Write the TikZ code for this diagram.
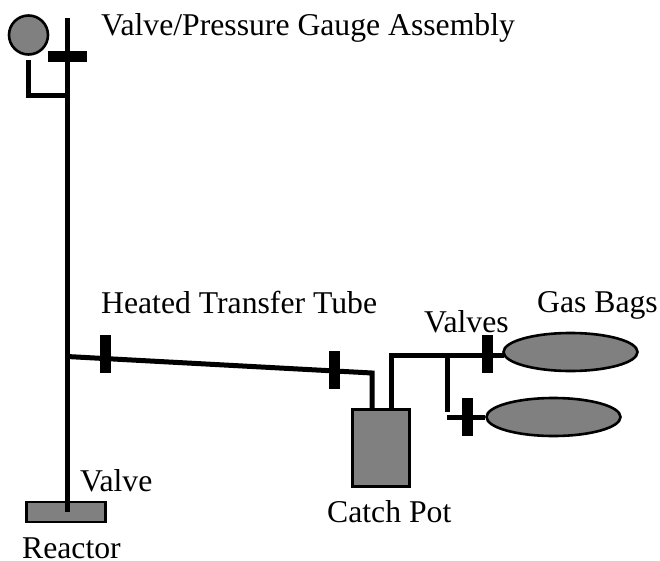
\documentclass[tikz,border=0pt]{standalone}
\usepackage{fontspec}
\setmainfont{Liberation Serif}
\usepackage{tikz}
\usetikzlibrary{shapes.geometric}

\begin{document}
\begin{tikzpicture}[x=1pt,y=-1pt]
\tikzstyle{pipe}=[line width=5pt,black]
\tikzstyle{valve}=[fill=black,inner sep=0pt,minimum width=11pt,minimum height=38pt]
\tikzstyle{valveh}=[fill=black,inner sep=0pt,minimum width=39pt,minimum height=11pt]
\tikzstyle{vessel}=[draw=black,line width=2.6pt,fill=black!50,inner sep=0pt]
\tikzstyle{bag}=[vessel,ellipse,minimum width=134pt,minimum height=38pt]
\tikzstyle{lbl}=[anchor=base west,inner sep=0pt,font=\fontsize{31.7}{32}\selectfont]

\useasboundingbox (0,0) rectangle (660,561);

\node[vessel,circle,minimum size=39pt] (gauge) at (28.5,35) {};
\node[vessel,minimum width=79pt,minimum height=20pt] (reactor) at (66,512) {};
\node[vessel,minimum width=57pt,minimum height=77pt] (pot) at (381,448) {};
\node[bag] (bagA) at (570.5,352) {};
\node[bag] (bagB) at (553.5,417) {};

\coordinate (top) at (67,18);
\coordinate (base) at (67,512);
\coordinate (teeG) at (67,96);
\coordinate (cornG) at (28,96);
\coordinate (stubG) at (28,60);
\coordinate (teeT) at (67,356.5);
\coordinate (cornT) at (372,373);
\coordinate (inP) at (372,409);
\coordinate (outP) at (391,409);
\coordinate (cornP) at (391,355.5);
\coordinate (inA) at (504,355.5);
\coordinate (teeB) at (447.5,355.5);
\coordinate (endB) at (447.5,412);
\coordinate (startB) at (447,417);

\draw[pipe] (top) -- (base);
\draw[pipe] (stubG) -- (cornG) -- (teeG);
\draw[pipe] (teeT) -- (cornT) -- (inP);
\draw[pipe] (outP) -- (cornP) -- (inA);
\draw[pipe] (teeB) -- (endB);
\draw[pipe] (startB) -- (bagB.west);

\node[valveh] (vGauge) at (67,57) {};
\node[valve] (vHeatA) at (105.5,354) {};
\node[valve] (vHeatB) at (334,370) {};
\node[valve] (vBagA) at (487,354) {};
\node[valve] (vBagB) at (467,417) {};

\node[lbl] (tAssembly) at (101,36) {Valve/Pressure Gauge Assembly};
\node[lbl] (tTube) at (101,313.5) {Heated Transfer Tube};
\node[lbl] (tValves) at (424,332) {Valves};
\node[lbl] (tBags) at (537,312) {Gas Bags};
\node[lbl] (tValve) at (80,491) {Valve};
\node[lbl] (tPot) at (327,522) {Catch Pot};
\node[lbl] (tReactor) at (22,558) {Reactor};
\end{tikzpicture}
\end{document}
